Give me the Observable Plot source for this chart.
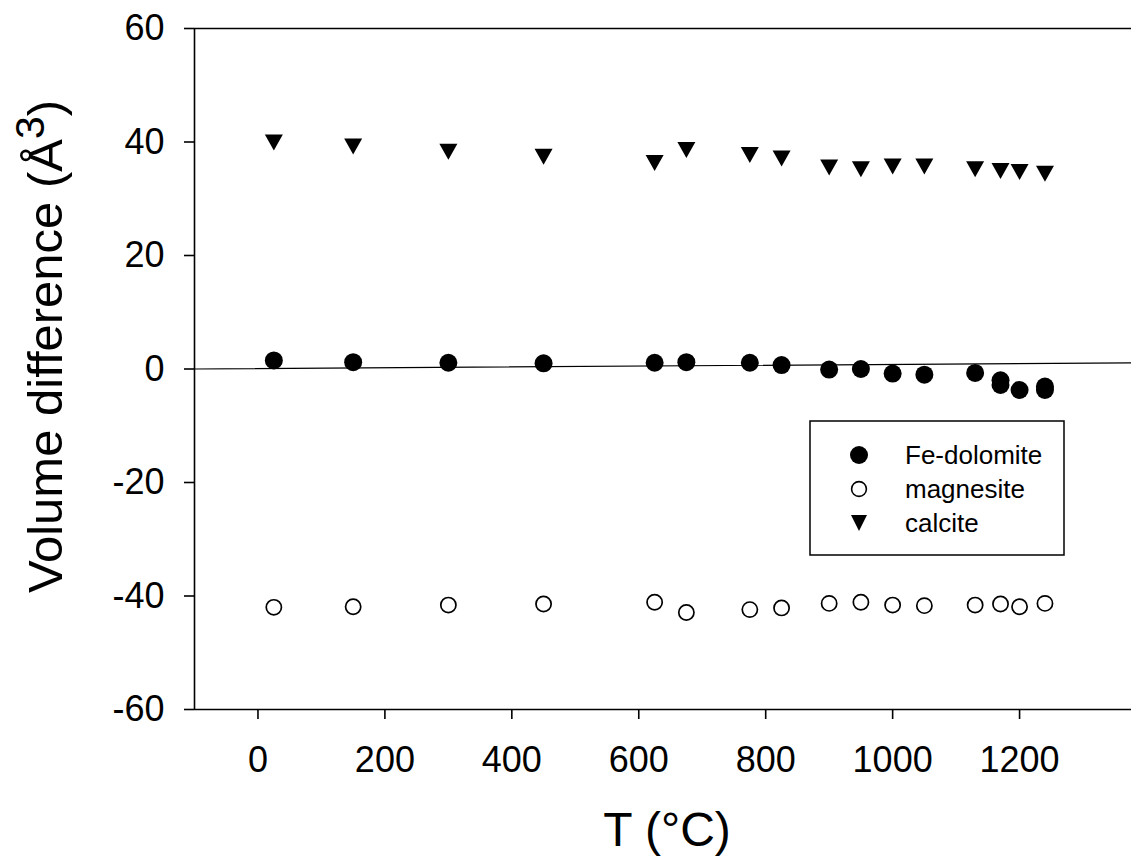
<!DOCTYPE html>
<html><head><meta charset="utf-8">
<script src="https://cdn.jsdelivr.net/npm/d3@7"></script>
<script src="https://cdn.jsdelivr.net/npm/@observablehq/plot@0.6"></script>
<style>
html,body{margin:0;padding:0;background:#fff;overflow:hidden;}
#chart{width:1146px;}
</style></head><body><div id="chart"></div>
<script>
// Temperatures (°C) shared by calcite and magnesite
const temps = [25,150,300,450,625,675,775,825,900,950,1000,1050,1130,1170,1200,1240];
const calcite = [39.9,39.2,38.3,37.4,36.3,38.6,37.7,37.1,35.5,35.2,35.7,35.7,35.2,34.9,34.7,34.4];
const magnesite = [-42.0,-41.9,-41.6,-41.4,-41.1,-42.9,-42.4,-42.1,-41.3,-41.1,-41.6,-41.7,-41.6,-41.4,-41.9,-41.3];
// Fe-dolomite (some temperatures measured twice)
const dolomiteT = [25,150,300,450,625,675,775,825,900,950,1000,1050,1130,1170,1170,1200,1240,1240];
const dolomite = [1.5,1.2,1.1,1.0,1.1,1.2,1.1,0.7,-0.1,0.0,-0.8,-1.0,-0.7,-2.0,-2.8,-3.7,-3.1,-3.7];
// Fitted line endpoints
const fitT = [-100, 1400];
const fitV = [0.0, 1.1];
// Axis ticks
const xTicks = [0,200,400,600,800,1000,1200];
const yTicks = [-60,-40,-20,0,20,40,60];
const legendLabels = ["Fe-dolomite","magnesite","calcite"];
const xTitle = "T (°C)";
const yTitle = "Volume difference (Å";
const ySup = "3";

const calcData = temps.map((t,i)=>({t, v: calcite[i]}));
const magData = temps.map((t,i)=>({t, v: magnesite[i]}));
const dolData = dolomiteT.map((t,i)=>({t, v: dolomite[i]}));
const fitData = fitT.map((t,i)=>({t, v: fitV[i]}));

const triDown = {draw(ctx){ ctx.moveTo(-9,-8); ctx.lineTo(9,-8); ctx.lineTo(0,8); ctx.closePath(); }};
const FONT = "'Liberation Sans', Arial, Helvetica, sans-serif";

const chart = Plot.plot({
  width: 1146, height: 859,
  marginLeft: 194, marginRight: 0, marginTop: 28, marginBottom: 150,
  style: {fontFamily: FONT, fontSize: "36px", background: "white", color: "black", maxWidth: "none"},
  x: {domain: [-100, 1400]},
  y: {domain: [-60, 60]},
  marks: [
    Plot.axisX({ticks: xTicks, tickSize: 10, tickPadding: 27, label: null, fontSize: 36, strokeWidth: 1.6, tickFormat: d => String(d)}),
    Plot.axisY({ticks: yTicks, tickSize: 10, tickPadding: 20, label: null, fontSize: 36, strokeWidth: 1.6, tickFormat: d => String(d)}),
    Plot.ruleX([-100], {stroke: "black", strokeWidth: 1.6}),
    Plot.ruleY([-60, 60], {stroke: "black", strokeWidth: 1.6}),
    Plot.line(fitData, {x: "t", y: "v", stroke: "black", strokeWidth: 1.2}),
    Plot.dot(calcData, {x: "t", y: "v", symbol: triDown, fill: "black", stroke: "none"}),
    Plot.dot(magData, {x: "t", y: "v", r: 7.6, fill: "none", stroke: "black", strokeWidth: 1.7}),
    Plot.dot(dolData, {x: "t", y: "v", r: 9, fill: "black", stroke: "none"})
  ]
});
chart.style.maxWidth = "none";
chart.style.width = "1146px";
chart.style.height = "859px";
document.getElementById("chart").appendChild(chart);

const svg = d3.select(chart);
// Axis titles
svg.append("text").attr("x", 667).attr("y", 846).attr("text-anchor", "middle")
  .attr("font-family", FONT).attr("font-size", 48).attr("fill", "black").text(xTitle);
const yt = svg.append("text").attr("transform", "translate(62,593) rotate(-90)")
  .attr("text-anchor", "start").attr("font-family", FONT).attr("font-size", 49).attr("fill", "black");
yt.append("tspan").text(yTitle);
yt.append("tspan").attr("dy", -18).attr("font-size", 41).text(ySup);
yt.append("tspan").attr("dy", 18).text(")");

// Legend
const lg = svg.append("g").attr("font-family", FONT).attr("font-size", 26).attr("text-anchor", "start");
lg.append("rect").attr("x", 810).attr("y", 421).attr("width", 254).attr("height", 134)
  .attr("fill", "white").attr("stroke", "black").attr("stroke-width", 1.5);
const rowY = [455, 489, 523];
lg.append("circle").attr("cx", 859).attr("cy", rowY[0]).attr("r", 9).attr("fill", "black");
lg.append("circle").attr("cx", 859).attr("cy", rowY[1]).attr("r", 7.4).attr("fill", "none").attr("stroke", "black").attr("stroke-width", 1.6);
lg.append("path").attr("d", `M${851},${rowY[2]-8}L${867},${rowY[2]-8}L${859},${rowY[2]+8}Z`).attr("fill", "black");
legendLabels.forEach((s, i) => {
  lg.append("text").attr("x", 905).attr("y", rowY[i] + 8.5).attr("text-anchor", "start").attr("fill", "black").text(s);
});
</script></body></html>
